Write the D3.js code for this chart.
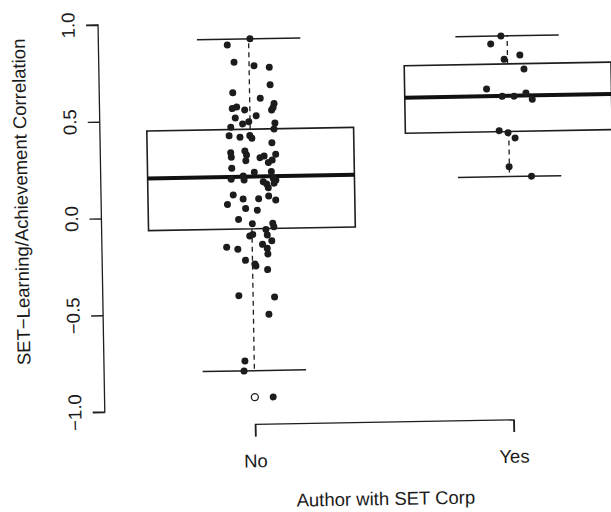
<!DOCTYPE html>
<html>
<head>
<meta charset="utf-8">
<script src="https://cdn.jsdelivr.net/npm/d3@7"></script>
<style>
  html, body { margin: 0; padding: 0; background: #fff; }
  svg { display: block; }
  text { font-family: "Liberation Sans", Arial, Helvetica, sans-serif; fill: #1a1a1a; }
</style>
</head>
<body>
<div id="chart"></div>
<script>
// ---------------- data ----------------
const categories = ["No", "Yes"];

const noValues = [0.915, 0.885, 0.795, 0.776, 0.766, 0.676, 0.638, 0.607, 0.578, 0.556,
  0.564, 0.548, 0.545, 0.558, 0.517, 0.507, 0.476, 0.487, 0.478, 0.460,
  0.447, 0.416, 0.407, 0.415, 0.401, 0.376, 0.328, 0.336, 0.305, 0.315,
  0.286, 0.300, 0.308, 0.316, 0.274, 0.287, 0.248, 0.225, 0.227, 0.207,
  0.186, 0.191, 0.175, 0.164, 0.192, 0.183, 0.167, 0.144, 0.110, 0.101,
  0.088, 0.088, 0.080, 0.061, 0.039, 0.029, -0.017, -0.041, -0.040, -0.058,
  -0.071, -0.104, -0.096, -0.100, -0.130, -0.148, -0.160, -0.171, -0.169, -0.198,
  -0.229, -0.249, -0.259, -0.279, -0.411, -0.421, -0.510, -0.749, -0.801, -0.937];
const noJitter = [0.005, -0.083, -0.058, 0.019, 0.078, 0.080, -0.065, 0.041, 0.094, -0.068,
  -0.051, -0.020, 0.084, 0.090, 0.024, -0.057, -0.029, -0.005, 0.096, -0.075,
  0.092, -0.082, -0.040, -0.002, 0.006, 0.083, -0.077, -0.022, -0.075, -0.016,
  -0.019, 0.036, 0.052, 0.097, 0.068, 0.083, -0.074, 0.013, 0.079, -0.030,
  -0.027, -0.077, 0.047, 0.060, 0.086, 0.096, 0.089, 0.066, -0.070, 0.067,
  -0.032, 0.028, 0.094, -0.093, -0.023, 0.022, -0.051, 0.002, 0.081, 0.085,
  0.054, -0.009, 0.003, 0.059, 0.076, 0.040, -0.099, -0.056, 0.058, 0.060,
  -0.027, 0.009, 0.013, 0.058, -0.055, 0.083, 0.060, -0.036, -0.040, 0.071];

const yesValues = [0.907, 0.867, 0.807, 0.786, 0.734, 0.634, 0.595, 0.595, 0.610, 0.577,
  0.418, 0.407, 0.379, 0.231, 0.180];
const yesJitter = [-0.024, -0.064, 0.048, -0.013, 0.063, -0.083, -0.023, 0.023, 0.069, 0.093,
  -0.037, -0.003, 0.024, -0.001, 0.085];

// box statistics per category
const boxQ1 = [-0.067, 0.413];
const boxMedian = [0.203, 0.597];
const boxQ3 = [0.448, 0.762];
const whiskerLow = [-0.800, 0.180];
const whiskerHigh = [0.915, 0.907];
const outliers = [[-0.937], []];

const yTicks = [-1.0, -0.5, 0.0, 0.5, 1.0];
const yTickLabels = ["\u22121.0", "\u22120.5", "0.0", "0.5", "1.0"];
const xTitle = "Author with SET Corp";
const yTitle = "SET\u2212Learning/Achievement Correlation";

// ---------------- drawing ----------------
const W = 611, H = 512;
const ink = "#1e1e1e";
const svg = d3.select("#chart").append("svg").attr("width", W).attr("height", H);
svg.append("rect").attr("width", W).attr("height", H).attr("fill", "#fff");

// the scanned figure is tilted slightly
const g = svg.append("g").attr("transform", "rotate(-1, 300, 250)");

const y = d3.scaleLinear().domain([-1, 1]).range([408.6, 21.5]);
const x = d3.scaleLinear().domain([1, 2]).range([252.3, 510.8]);
const boxHalf = 0.4, stapleHalf = 0.2;
const fs = 18.5;

// y axis
const yAxisX = 102;
const yAxis = d3.axisLeft(y).tickValues(yTicks).tickSize(12).tickFormat("");
const ya = g.append("g").attr("transform", `translate(${yAxisX},0)`).call(yAxis);
ya.select(".domain").attr("d", `M-12,${y(1)}H0V${y(-1)}H-12`).attr("stroke", ink).attr("stroke-width", 1.3).attr("fill", "none");
ya.selectAll(".tick line").attr("stroke", ink).attr("stroke-width", 1.3);
ya.selectAll(".tick text").remove();
g.selectAll(".ytl").data(yTicks).enter().append("text")
  .attr("class", "ytl")
  .attr("transform", d => `translate(${yAxisX - 23.5},${y(d)}) rotate(-90)`)
  .attr("text-anchor", "middle")
  .attr("font-size", fs)
  .text((d, i) => yTickLabels[i]);

// x axis
const xAxis = d3.axisBottom(x).tickValues([1, 2]).tickSize(12).tickFormat("");
const xAxisY = 423.6;
const xa = g.append("g").attr("transform", `translate(0,${xAxisY})`).call(xAxis);
xa.select(".domain").attr("d", `M${x(1)},12V0H${x(2)}V12`).attr("stroke", ink).attr("stroke-width", 1.3).attr("fill", "none");
xa.selectAll(".tick line").attr("stroke", ink).attr("stroke-width", 1.3);
xa.selectAll(".tick text").remove();
g.selectAll(".xtl").data(categories).enter().append("text")
  .attr("class", "xtl")
  .attr("x", (d, i) => x(i + 1))
  .attr("y", 466.5)
  .attr("text-anchor", "middle")
  .attr("font-size", fs)
  .text(d => d);

// titles
g.append("text").attr("x", (x(1) + x(2)) / 2).attr("y", 506.5)
  .attr("text-anchor", "middle").attr("font-size", fs).text(xTitle);
g.append("text").attr("transform", `translate(28.5,${(y(1) + y(-1)) / 2 - 18}) rotate(-90)`)
  .attr("text-anchor", "middle").attr("font-size", fs).text(yTitle);

// boxes
const boxes = g.append("g");
categories.forEach((c, i) => {
  const cx = i + 1;
  const bg = boxes.append("g");
  // dashed whiskers
  bg.append("line").attr("x1", x(cx)).attr("x2", x(cx)).attr("y1", y(boxQ3[i])).attr("y2", y(whiskerHigh[i]))
    .attr("stroke", ink).attr("stroke-width", 1.3).attr("stroke-dasharray", "5,4");
  bg.append("line").attr("x1", x(cx)).attr("x2", x(cx)).attr("y1", y(boxQ1[i])).attr("y2", y(whiskerLow[i]))
    .attr("stroke", ink).attr("stroke-width", 1.3).attr("stroke-dasharray", "5,4");
  // staples
  [whiskerHigh[i], whiskerLow[i]].forEach(v => {
    bg.append("line").attr("x1", x(cx - stapleHalf)).attr("x2", x(cx + stapleHalf))
      .attr("y1", y(v)).attr("y2", y(v)).attr("stroke", ink).attr("stroke-width", 1.5);
  });
  // box
  bg.append("rect").attr("x", x(cx - boxHalf)).attr("width", x(cx + boxHalf) - x(cx - boxHalf))
    .attr("y", y(boxQ3[i])).attr("height", y(boxQ1[i]) - y(boxQ3[i]))
    .attr("fill", "none").attr("stroke", ink).attr("stroke-width", 1.6);
  // median
  bg.append("line").attr("x1", x(cx - boxHalf)).attr("x2", x(cx + boxHalf))
    .attr("y1", y(boxMedian[i])).attr("y2", y(boxMedian[i]))
    .attr("stroke", "#111").attr("stroke-width", 4);
  // outliers
  outliers[i].forEach(v => {
    bg.append("circle").attr("cx", x(cx)).attr("cy", y(v)).attr("r", 3.5)
      .attr("fill", "#fff").attr("stroke", ink).attr("stroke-width", 1.3);
  });
});

// jittered points
const pts = [];
noValues.forEach((v, k) => pts.push({ c: 1, v, j: noJitter[k] }));
yesValues.forEach((v, k) => pts.push({ c: 2, v, j: yesJitter[k] }));
g.append("g").selectAll("circle").data(pts).enter().append("circle")
  .attr("cx", d => x(d.c + d.j))
  .attr("cy", d => y(d.v))
  .attr("r", 3.5)
  .attr("fill", "#1c1c1c");
</script>
</body>
</html>
